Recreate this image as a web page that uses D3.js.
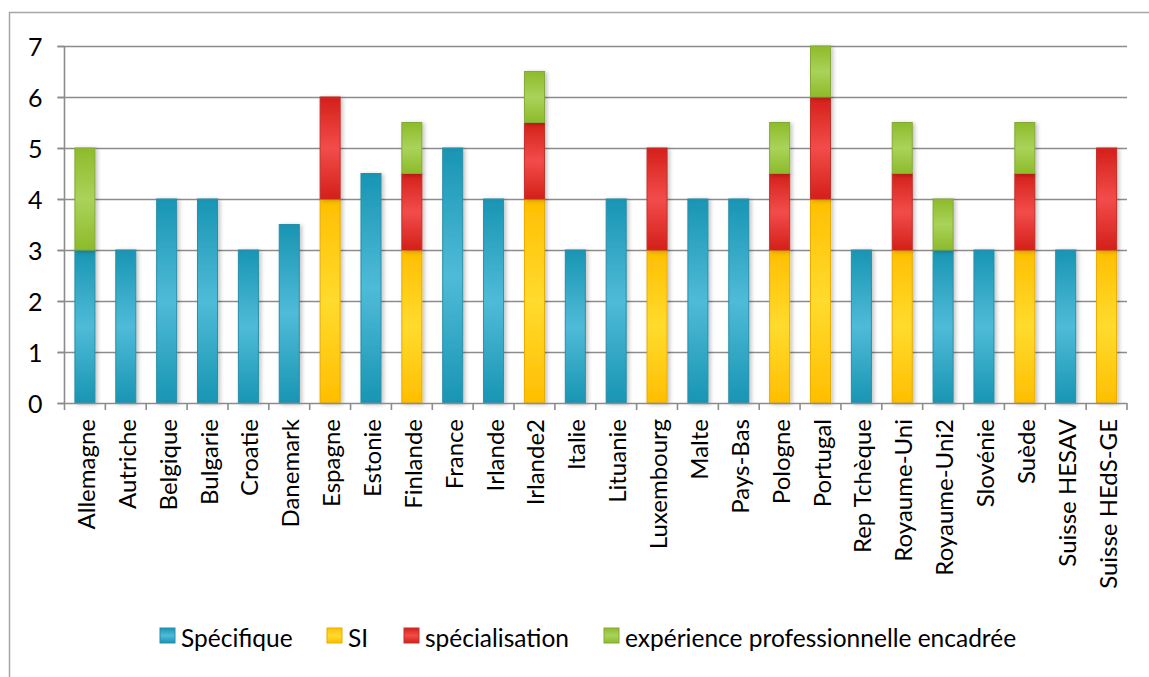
<!DOCTYPE html>
<html><head><meta charset="utf-8">
<script src="https://cdn.jsdelivr.net/npm/d3@7"></script>
<style>
html,body{margin:0;padding:0;background:#fff;}
svg{display:block;font-family:Lato,"Open Sans",sans-serif;}
</style></head>
<body><svg id="c" width="1149" height="677"></svg>
<script>
const categories = ["Allemagne","Autriche","Belgique","Bulgarie","Croatie","Danemark","Espagne","Estonie","Finlande","France","Irlande","Irlande2","Italie","Lituanie","Luxembourg","Malte","Pays-Bas","Pologne","Portugal","Rep Tchèque","Royaume-Uni","Royaume-Uni2","Slovénie","Suède","Suisse HESAV","Suisse HEdS-GE"];
const specifique     = [3,3,4,4,3,3.5,0,4.5,0,5,4,0,3,4,0,4,4,0,0,3,0,3,3,0,3,0];
const si             = [0,0,0,0,0,0,4,0,3,0,0,4,0,0,3,0,0,3,4,0,3,0,0,3,0,3];
const specialisation = [0,0,0,0,0,0,2,0,1.5,0,0,1.5,0,0,2,0,0,1.5,2,0,1.5,0,0,1.5,0,2];
const experience     = [2,0,0,0,0,0,0,0,1,0,0,1,0,0,0,0,0,1,1,0,1,1,0,1,0,0];
const seriesNames = ["Spécifique","SI","spécialisation","expérience professionnelle encadrée"];
const yTicks = [0,1,2,3,4,5,6,7];

const seriesValues = [specifique, si, specialisation, experience];
const palette = [
  {edge:"#1895b3", mid:"#4fbbd8", stroke:"#2a8ea8"},
  {edge:"#ffbe00", mid:"#ffdb2e", stroke:"#e6ad00"},
  {edge:"#d4201a", mid:"#f24c4a", stroke:"#c0302a"},
  {edge:"#8dbb2a", mid:"#a9d35a", stroke:"#85a83a"}
];

const svg = d3.select("#c");
const defs = svg.append("defs");
palette.forEach((p,i)=>{
  const g = defs.append("linearGradient").attr("id","g"+i).attr("x1",0).attr("y1",0).attr("x2",0).attr("y2",1);
  g.append("stop").attr("offset","0%").attr("stop-color",p.edge);
  g.append("stop").attr("offset","50%").attr("stop-color",p.mid);
  g.append("stop").attr("offset","100%").attr("stop-color",p.edge);
});
const sh = defs.append("filter").attr("id","sh").attr("x","-50%").attr("y","-10%").attr("width","200%").attr("height","120%");
sh.append("feGaussianBlur").attr("in","SourceAlpha").attr("stdDeviation",2).attr("result","b");
sh.append("feOffset").attr("in","b").attr("dx",2).attr("dy",1).attr("result","o");
sh.append("feComponentTransfer").attr("in","o").attr("result","t").append("feFuncA").attr("type","linear").attr("slope",0.25);
const fm = sh.append("feMerge"); fm.append("feMergeNode").attr("in","t"); fm.append("feMergeNode").attr("in","SourceGraphic");

// outer border
svg.append("rect").attr("x",9.5).attr("y",12.5).attr("width",1160).attr("height",700)
  .attr("fill","none").attr("stroke","#a6a6a6").attr("stroke-width",1.5);

const pL = 64.5, pR = 1127, pT = 46, pB = 403;
const x = d3.scaleBand().domain(categories).range([pL,pR]).paddingInner(0.51).paddingOuter(0.255);
const xb = d3.scaleBand().domain(categories).range([pL,pR]);
const y = d3.scaleLinear().domain([0,7]).range([pB,pT]);

// gridlines
svg.append("g").selectAll("line").data(yTicks.filter(d=>d>0)).join("line")
  .attr("x1",pL-7).attr("x2",pR).attr("y1",d=>Math.round(y(d))+0.5).attr("y2",d=>Math.round(y(d))+0.5)
  .attr("stroke","#8c8c8c").attr("stroke-width",1.6);

// y axis
const ya = svg.append("g").attr("transform",`translate(${pL},0)`)
  .call(d3.axisLeft(y).tickValues(yTicks).tickSize(7).tickPadding(15).tickFormat(d3.format("d")));
ya.select(".domain").attr("stroke","#8c8c8c").attr("stroke-width",1.6).attr("d",`M0,${pT}V${pB}`);
ya.selectAll(".tick line").attr("stroke","#8c8c8c").attr("stroke-width",1.6);
ya.selectAll("text").attr("font-size",25).attr("fill","#000").attr("font-family","Lato,sans-serif").attr("dy","0.36em");

// bars
const stack = d3.stack().keys(d3.range(4)).value((d,k)=>seriesValues[k][d])(d3.range(categories.length));
const barsG = svg.append("g");
stack.forEach((s,k)=>{
  barsG.append("g").selectAll("rect").data(s.map((v,i)=>({v,i})).filter(d=>d.v[1]>d.v[0])).join("rect")
    .attr("x",d=>x(categories[d.i])).attr("width",x.bandwidth())
    .attr("y",d=>y(d.v[1])).attr("height",d=>y(d.v[0])-y(d.v[1]))
    .attr("fill",`url(#g${k})`).attr("stroke",palette[k].stroke).attr("stroke-width",1)
    .attr("filter","url(#sh)");
});

// x axis
const xa = svg.append("g").attr("transform",`translate(0,${pB})`);
xa.append("line").attr("x1",pL-7).attr("x2",pR).attr("y1",0.5).attr("y2",0.5).attr("stroke","#8c8c8c").attr("stroke-width",1.6);
xa.selectAll("line.t").data(categories.map(c=>xb(c)).concat([pR])).join("line").attr("class","t")
  .attr("x1",d=>d).attr("x2",d=>d).attr("y1",0).attr("y2",7).attr("stroke","#8c8c8c").attr("stroke-width",1.6);
xa.selectAll("text").data(categories).join("text")
  .attr("transform",d=>`translate(${xb(d)+xb.bandwidth()/2+10},16) rotate(-90)`)
  .attr("text-anchor","end").attr("font-size",24).attr("fill","#000").text(d=>d);

// legend
const legendX = [160,327,404,604];
const lg = svg.append("g");
seriesNames.forEach((n,k)=>{
  lg.append("rect").attr("x",legendX[k]).attr("y",628).attr("width",15).attr("height",15)
    .attr("fill",`url(#g${k})`).attr("stroke",palette[k].stroke).attr("stroke-width",1);
  lg.append("text").attr("x",legendX[k]+21).attr("y",647).attr("font-size",24.5).attr("fill","#000").text(n);
});
</script></body></html>
